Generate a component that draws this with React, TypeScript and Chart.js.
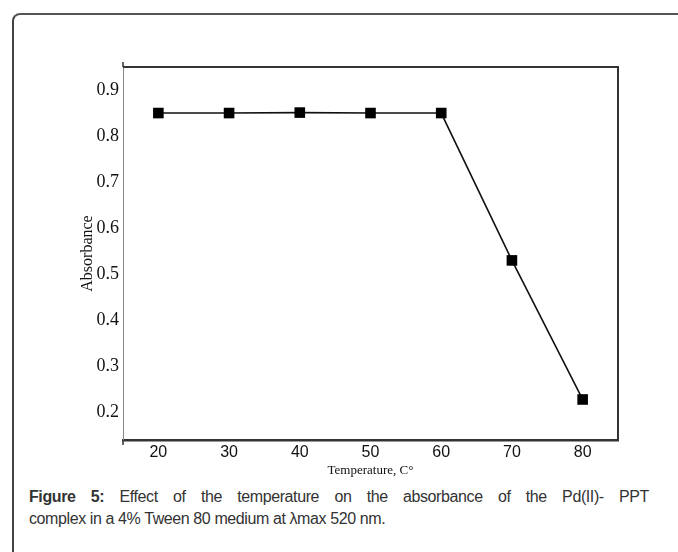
import React, { useEffect, useRef } from "react";
import { Chart, registerables } from "chart.js";

Chart.register(...registerables);

const temperatures = [20, 30, 40, 50, 60, 70, 80];
const absorbance = [0.85, 0.85, 0.851, 0.85, 0.85, 0.53, 0.228];
const xTicks = [20, 30, 40, 50, 60, 70, 80];
const yTicks = [0.2, 0.3, 0.4, 0.5, 0.6, 0.7, 0.8, 0.9];

const framePlugin = {
  id: "frame",
  afterDraw(chart: any) {
    const { ctx, chartArea } = chart;
    const { left, top, right, bottom } = chartArea;
    ctx.save();
    ctx.strokeStyle = "#333";
    ctx.lineWidth = 2;
    ctx.beginPath();
    ctx.moveTo(left, top);
    ctx.lineTo(right, top);
    ctx.lineTo(right, bottom);
    ctx.stroke();
    ctx.lineWidth = 1.5;
    ctx.beginPath();
    ctx.moveTo(left, top - 5);
    ctx.lineTo(left, top);
    ctx.moveTo(left, bottom);
    ctx.lineTo(left, bottom + 5);
    ctx.stroke();
    ctx.restore();
  },
};

export default function App() {
  const ref = useRef<HTMLCanvasElement>(null);
  useEffect(() => {
    if (!ref.current) return;
    const chart = new Chart(ref.current, {
      type: "scatter",
      data: {
        datasets: [
          {
            data: temperatures.map((t, i) => ({ x: t, y: absorbance[i] })),
            showLine: true,
            borderColor: "#111",
            borderWidth: 1.6,
            pointStyle: "rect",
            pointRadius: 7.5,
            pointBackgroundColor: "#000",
            pointBorderColor: "#000",
            pointBorderWidth: 0,
          },
        ],
      },
      options: {
        animation: false,
        responsive: false,
        events: [],
        layout: { padding: { left: 78, top: 67, right: 60, bottom: 0 } },
        plugins: { legend: { display: false }, tooltip: { enabled: false } },
        scales: {
          x: {
            type: "linear",
            min: 15,
            max: 85,
            afterBuildTicks: (s: any) => {
              s.ticks = xTicks.map((v) => ({ value: v }));
            },
            afterFit: (s: any) => {
              s.height = 40;
            },
            grid: { display: false, drawTicks: false, tickLength: 0 },
            border: { display: true, color: "#333", width: 2.5 },
            ticks: {
              padding: 3,
              color: "#111",
              font: { family: "'Liberation Sans', Arial, sans-serif", size: 16 },
            },
            title: {
              display: true,
              text: "Temperature, C°",
              color: "#111",
              padding: { top: 0, bottom: 2 },
              font: { family: "'Liberation Serif', 'Times New Roman', serif", size: 13 },
            },
          },
          y: {
            type: "linear",
            min: 0.14,
            max: 0.95,
            afterBuildTicks: (s: any) => {
              s.ticks = yTicks.map((v) => ({ value: v }));
            },
            afterFit: (s: any) => {
              s.width = 45;
            },
            grid: { display: false, drawTicks: false, tickLength: 0 },
            border: { display: true, color: "#888", width: 1 },
            ticks: {
              padding: 4,
              color: "#111",
              callback: (v: any) => Number(v).toFixed(1),
              font: { family: "'Liberation Serif', 'Times New Roman', serif", size: 18 },
            },
            title: {
              display: true,
              text: "Absorbance",
              color: "#111",
              padding: { top: 0, bottom: 0 },
              font: { family: "'Liberation Serif', 'Times New Roman', serif", size: 16 },
            },
          },
        },
      },
      plugins: [framePlugin],
    });
    return () => chart.destroy();
  }, []);

  return (
    <div
      style={{
        position: "absolute",
        left: 0,
        top: 0,
        width: 678,
        height: 552,
        overflow: "hidden",
        background: "#fff",
      }}
    >
      <div
        style={{
          position: "absolute",
          left: 12,
          top: 13,
          width: 720,
          height: 620,
          borderLeft: "2px solid #444",
          borderTop: "2px solid #555",
          borderTopLeftRadius: 8,
          boxSizing: "border-box",
        }}
      />
      <canvas
        ref={ref}
        width={678}
        height={480}
        style={{ position: "absolute", left: 0, top: 0, width: 678, height: 480 }}
      />
      <div
        style={{
          position: "absolute",
          left: 29,
          top: 486,
          width: 620,
          fontFamily: "'Liberation Sans', Arial, sans-serif",
          fontSize: 16,
          letterSpacing: "-0.4px",
          lineHeight: "22px",
          color: "#333",
        }}
      >
        <div style={{ textAlign: "justify", textAlignLast: "justify" }}>
          <b>Figure 5:</b> Effect of the temperature on the absorbance of the Pd(II)- PPT
        </div>
        <div>complex in a 4% Tween 80 medium at λmax 520 nm.</div>
      </div>
    </div>
  );
}
